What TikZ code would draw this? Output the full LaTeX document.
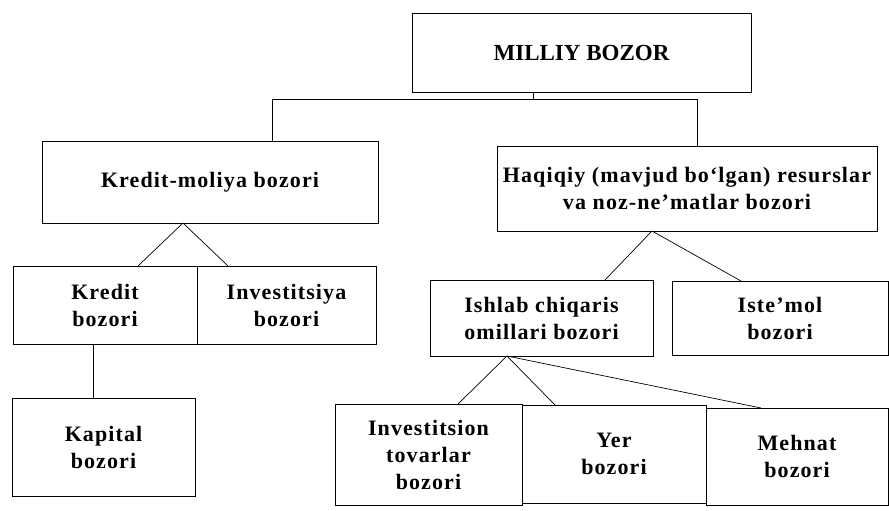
\documentclass[tikz,border=0pt]{standalone}
\usepackage{fontspec}
\setmainfont{Liberation Serif}[LetterSpace=5]
\newfontfamily\titlefont{Liberation Serif}
\begin{document}
\begin{tikzpicture}[x=1pt,y=-1pt,inner sep=0pt,outer sep=0pt,
  box/.style={draw,line width=0.7pt,align=center,font=\fontsize{22}{27}\selectfont\bfseries},
  link/.style={line width=0.7pt}]

\useasboundingbox (0,0) rectangle (889,511);

% top
\node(root) at (581.5,52.5) [box,minimum width=339,minimum height=79,font=\titlefont\fontsize{23}{26}\selectfont\bfseries] {MILLIY BOZOR};

% second level
\node(km) at (210,182) [box,minimum width=336,minimum height=82] {Kredit-moliya bozori};
\node(hq) at (687,188.5) [box,minimum width=380,minimum height=85] {Haqiqiy (mavjud bo‘lgan) resurslar\\va noz-ne’matlar bozori};

\coordinate(forkL) at (272,99);
\coordinate(forkR) at (697,99);
\draw[link] (root.south -| 533,0) -- (533,99);
\draw[link] (forkL |- km.north) -- (forkL) -- (forkR) -- (forkR |- hq.north);

% credit side
\node(kb) at (105,305) [box,minimum width=184,minimum height=78] {Kredit\\bozori};
\node(ib) at (286.5,305) [box,minimum width=179,minimum height=78] {Investitsiya\\bozori};
\node(kap) at (103.5,447) [box,minimum width=183,minimum height=98] {Kapital\\bozori};

\coordinate(kmT) at (183,223);
\coordinate(kbT) at (138,266);
\coordinate(ibT) at (228,266);
\draw[link] (kbT) -- (kmT) -- (ibT);
\coordinate(kapL) at (93,0);
\draw[link] (kapL |- kb.south) -- (kapL |- kap.north);

% real side
\node(ish) at (541.5,318) [box,minimum width=223,minimum height=76] {Ishlab chiqaris\\omillari bozori};
\node(ist) at (780,318) [box,minimum width=216,minimum height=74] {Iste’mol\\bozori};

\coordinate(hqT) at (652,231);
\coordinate(ishT) at (605,280);
\coordinate(istT) at (741,281);
\draw[link] (ishT) -- (hqT) -- (istT);

\node(inv) at (428.5,454.5) [box,minimum width=187,minimum height=101] {Investitsion\\tovarlar\\bozori};
\node(yer) at (614,454) [box,minimum width=184,minimum height=98] {Yer\\bozori};
\node(meh) at (797,456.5) [box,minimum width=182,minimum height=97] {Mehnat\\bozori};

\coordinate(ishB) at (507,356);
\coordinate(invT) at (458,404);
\coordinate(yerT) at (555,405);
\coordinate(mehT) at (761,408);
\draw[link] (invT) -- (ishB) -- (yerT);
\draw[link] (ishB) -- (mehT);

\end{tikzpicture}
\end{document}
